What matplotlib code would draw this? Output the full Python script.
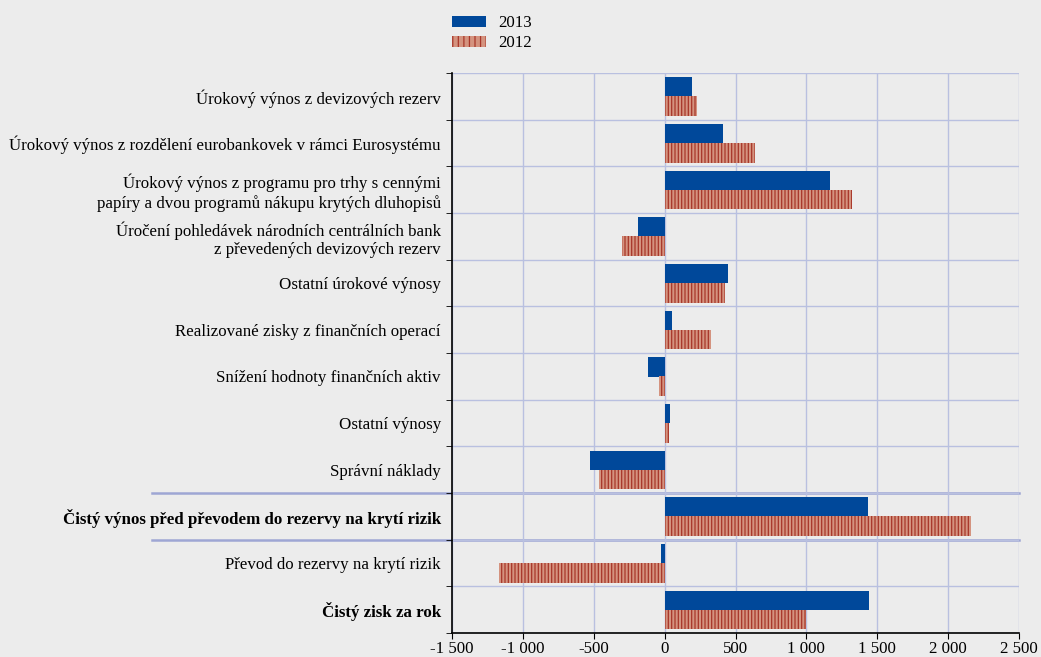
import matplotlib
matplotlib.use("Agg")
import matplotlib.pyplot as plt
import matplotlib.transforms as mtransforms
from matplotlib.patches import Patch
from matplotlib.ticker import FuncFormatter
import numpy as np

# data (EUR millions)
categories = [
    "Úrokový výnos z devizových rezerv",
    "Úrokový výnos z rozdělení eurobankovek v rámci Eurosystému",
    "Úrokový výnos z programu pro trhy s cennými\npapíry a dvou programů nákupu krytých dluhopisů",
    "Úročení pohledávek národních centrálních bank\nz převedených devizových rezerv",
    "Ostatní úrokové výnosy",
    "Realizované zisky z finančních operací",
    "Snížení hodnoty finančních aktiv",
    "Ostatní výnosy",
    "Správní náklady",
    "Čistý výnos před převodem do rezervy na krytí rizik",
    "Převod do rezervy na krytí rizik",
    "Čistý zisk za rok",
]
bold_rows = [9, 11]
values_2013 = [190, 410, 1165, -190, 445, 55, -115, 35, -527, 1435, -28, 1440]
values_2012 = [228, 640, 1325, -300, 425, 325, -38, 30, -464, 2164, -1166, 998]
xticks = [-1500, -1000, -500, 0, 500, 1000, 1500, 2000, 2500]

bg = "#ececec"
blue = "#00489a"
red_fill = "#d4937f"
red_line = "#a8372a"
grid_col = "#b9c0e0"

plt.rcParams['font.family'] = ['Liberation Serif', 'DejaVu Serif']
plt.rcParams['font.size'] = 12.2
plt.rcParams['hatch.linewidth'] = 0.9

fig = plt.figure(figsize=(10.41, 6.57), dpi=100, facecolor=bg)
ax = fig.add_axes([452 / 1041, 1 - 633 / 657, 567 / 1041, 560 / 657])
ax.set_facecolor(bg)

y = np.arange(len(categories))
ax.barh(y - 0.2, values_2013, height=0.42, color=blue, zorder=3)
ax.barh(y + 0.21, values_2012, height=0.42, facecolor=red_fill,
        edgecolor=red_line, linewidth=0, hatch='|||||', zorder=3)

ax.set_xlim(-1500, 2500)
ax.set_ylim(len(categories) - 0.5, -0.5)
ax.set_xticks(xticks)
ax.xaxis.set_major_formatter(FuncFormatter(lambda v, p: f"{int(v):,}".replace(",", " ")))

ax.set_yticks(y)
ax.set_yticklabels(categories, ha='right')
for i, lab in enumerate(ax.get_yticklabels()):
    if i in bold_rows:
        lab.set_fontweight('bold')
ax.set_yticks(np.arange(-0.5, len(categories)), minor=True)
ax.tick_params(axis='y', which='major', length=0, pad=8)
ax.tick_params(axis='y', which='minor', length=4, direction='out', color='black')
ax.tick_params(axis='x', length=4, direction='out', pad=2)

# grid
ax.grid(True, axis='x', color=grid_col, linewidth=1.0, zorder=0)
ax.grid(True, axis='y', which='minor', color=grid_col, linewidth=1.0, zorder=0)

for side in ['top', 'right']:
    ax.spines[side].set_visible(False)
ax.spines['left'].set_linewidth(1.2)
ax.spines['bottom'].set_linewidth(1.2)

# separator lines that run under the labels
trans = mtransforms.blended_transform_factory(ax.transAxes, ax.transData)
for yy in [8.5, 9.5]:
    ax.plot([(152 - 452) / 567, 1.0], [yy, yy], transform=trans, color="#9ea6d4",
            linewidth=1.8, clip_on=False, zorder=1)

handles = [Patch(facecolor=blue, label='2013'),
           Patch(facecolor=red_fill, edgecolor=red_line, linewidth=0, hatch='|||', label='2012')]
fig.legend(handles=handles, loc='upper left', bbox_to_anchor=(437 / 1041, 1 - 0 / 657),
           frameon=False, handlelength=2.0, handleheight=0.6, handletextpad=0.7,
           labelspacing=0.25, fontsize=12.2)

fig.savefig("out.png", dpi=100, facecolor=bg)
